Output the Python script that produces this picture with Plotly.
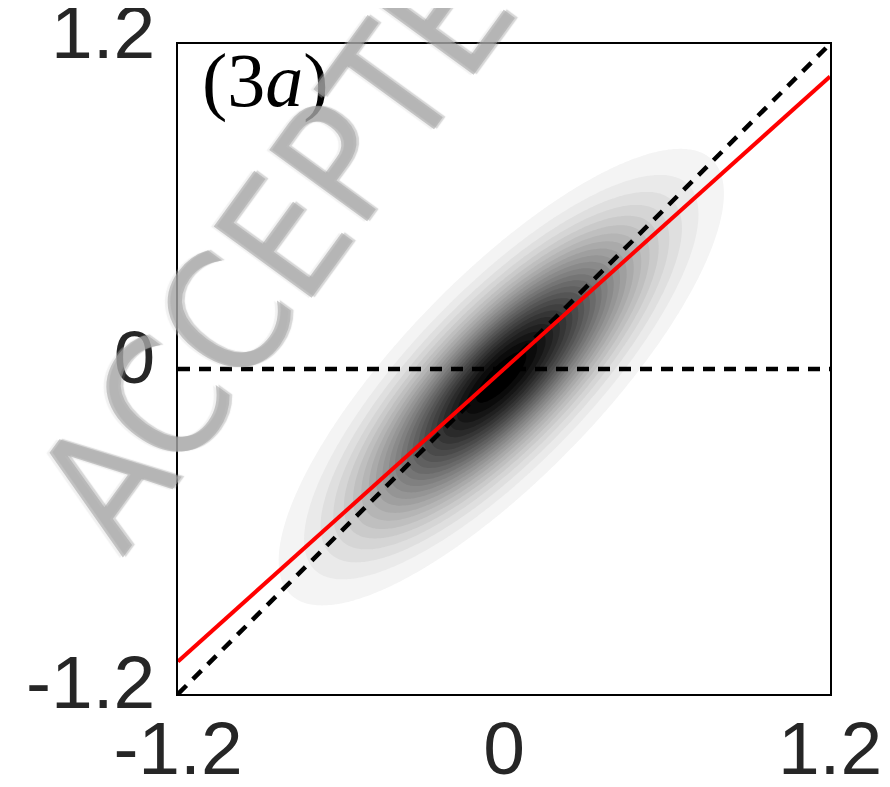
import numpy as np
import plotly.graph_objects as go

# ---- values ----
axis_range = [-1.2, 1.2]
tick_vals = [-1.2, 0, 1.2]
tick_text = ["-1.2", "0", "1.2"]

density_center = [-0.01, -0.03]
density_sigma_major = 0.44
density_sigma_minor = 0.145
density_angle_deg = 46.0
density_levels = [0.04, 0.96, 0.04]  # start, end, step (fraction of peak)

# reference lines
identity_x = [-1.2, 1.2]
identity_y = [-1.2, 1.2]
zero_x = [-1.2, 1.2]
zero_y = [0.0, 0.0]
fit_slope = 0.9
fit_x = [-1.2, 1.2]
fit_y = [fit_slope * v for v in fit_x]

panel_label = "(3<i>a</i>)"
watermark = "ACCEPTED"

# ---- density grid ----
g = np.linspace(axis_range[0], axis_range[1], 241)
X, Y = np.meshgrid(g, g)
th = np.deg2rad(density_angle_deg)
dx = X - density_center[0]
dy = Y - density_center[1]
u = dx * np.cos(th) + dy * np.sin(th)
v = -dx * np.sin(th) + dy * np.cos(th)
Z = np.exp(-0.5 * ((u / density_sigma_major) ** 2 + (v / density_sigma_minor) ** 2))

fig = go.Figure()
fig.add_trace(go.Contour(
    x=g, y=g, z=Z,
    zmin=0, zmax=1,
    contours=dict(start=density_levels[0], end=density_levels[1], size=density_levels[2], coloring="fill"),
    colorscale=[[0, "#ffffff"], [1, "#000000"]],
    line=dict(width=0),
    showscale=False,
    hoverinfo="skip",
))
fig.add_trace(go.Scatter(x=zero_x, y=zero_y, mode="lines",
                         line=dict(color="black", width=4.5, dash="12px,9px"), showlegend=False))
fig.add_trace(go.Scatter(x=identity_x, y=identity_y, mode="lines",
                         line=dict(color="black", width=4.5, dash="12px,9px"), showlegend=False))
fig.add_trace(go.Scatter(x=fit_x, y=fit_y, mode="lines",
                         line=dict(color="#ff0000", width=4), showlegend=False))

tickfont = dict(family="Liberation Sans, Arial, Helvetica, sans-serif", size=75, color="#262626")
axis_common = dict(
    range=axis_range, tickmode="array", tickvals=tick_vals, ticktext=tick_text,
    showgrid=False, zeroline=False, showline=True, linecolor="black", linewidth=1.5,
    mirror=True, ticks="", tickfont=tickfont, automargin=False, ticklabeloverflow="allow",
)
fig.update_xaxes(**axis_common, ticklabelstandoff=-12)
fig.update_yaxes(**axis_common, ticklabelstandoff=6, ticklabelshift=-12)

# page is drawn with an 8px body margin; target plot box in page pixels
BODY = 8
W, H = 890, 787
PX0, PX1, PY0, PY1 = 178, 830, 44, 694


def paper(px, py):
    return (px - PX0) / (PX1 - PX0), (PY1 - py) / (PY1 - PY0)


lx, ly = paper(200, 36)
fig.add_annotation(
    text=panel_label, xref="paper", yref="paper", x=lx, y=ly,
    xanchor="left", yanchor="top", showarrow=False,
    font=dict(family="Liberation Serif, DejaVu Serif, serif", size=76, color="black"),
)
wx, wy = paper(308, 204)
fig.add_annotation(
    text=watermark, xref="paper", yref="paper", x=wx, y=wy,
    xanchor="center", yanchor="middle", showarrow=False, textangle=-54,
    font=dict(family="Liberation Sans Narrow, DejaVu Sans Condensed, Liberation Sans, sans-serif",
              size=166, color="rgba(165,165,165,0.6)",
              shadow="2px 2px 1px rgba(120,120,120,0.5), -2px -2px 1px rgba(215,215,215,0.6)"),
)

fig.update_layout(
    width=W - BODY, height=H - BODY, autosize=False,
    margin=dict(l=PX0 - BODY, r=W - PX1, t=PY0 - BODY, b=H - PY1),
    plot_bgcolor="white", paper_bgcolor="white",
    showlegend=False,
)
fig.write_html("out.html")
